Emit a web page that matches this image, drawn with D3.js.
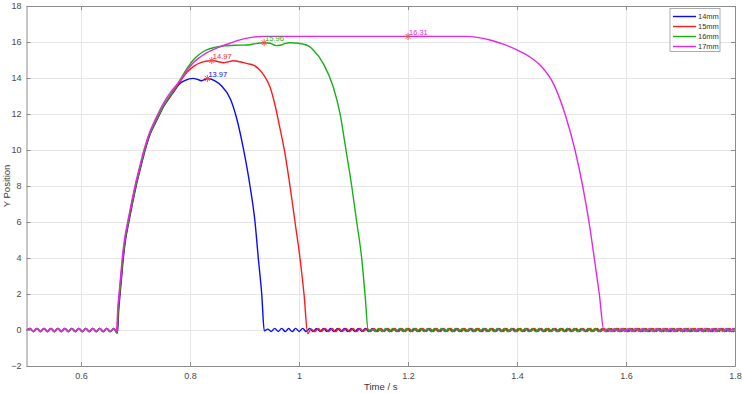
<!DOCTYPE html>
<html>
<head>
<meta charset="utf-8">
<script src="https://cdn.jsdelivr.net/npm/d3@7"></script>
<style>
  body { margin: 0; background: #fff; }
  text { font-family: "Liberation Sans", Arial, sans-serif; }
</style>
</head>
<body>
<script>
// series names and colours
const names = ["14mm", "15mm", "16mm", "17mm"];
const colors = ["#0a0aff", "#ff1a1a", "#12b312", "#e526e5"];

// main shape of each trajectory (time in s, y position)
const tBlue = [0.667,0.6692,0.6717,0.6747,0.6777,0.6817,0.6877,0.6942,0.7012,0.7092,0.7177,0.7272,0.7382,0.7512,0.767,0.7817,0.79,0.806,0.814,0.821,0.832,0.845,0.858,0.8739,0.8857,0.8978,0.9101,0.9193,0.9253,0.9316,0.9363];
const yBlue = [-0.15,1.1,2.0,3.0,4.0,5.0,6.0,7.0,8.0,9.0,10.0,10.9,11.6,12.4,13.1,13.7,13.85,13.98,13.92,13.85,13.97,13.85,13.55,12.85,11.75,10.1,8.0,6.0,4.0,2.0,-0.05];

const tRed = [0.6662,0.6684,0.6709,0.6739,0.6769,0.6809,0.6869,0.6934,0.7004,0.7084,0.7169,0.7264,0.7374,0.7504,0.7664,0.7817,0.794,0.806,0.822,0.840,0.851,0.861,0.870,0.879,0.8918,0.905,0.9162,0.926,0.9345,0.9468,0.956,0.9651,0.9743,0.9835,0.9927,1.0018,1.0092,1.016];
const yRed = [-0.2,1.1,2.0,3.0,4.0,5.0,6.0,7.0,8.0,9.0,10.0,10.9,11.6,12.4,13.1,13.8,14.3,14.63,14.88,14.97,14.92,14.85,14.9,14.96,14.9,14.8,14.72,14.5,14.2,13.5,12.5,11.2,9.8,8.0,6.0,4.0,2.0,-0.2];

const tGreen = [0.6658,0.668,0.6705,0.6735,0.6765,0.6805,0.6865,0.693,0.700,0.708,0.7165,0.726,0.737,0.750,0.766,0.7817,0.794,0.806,0.818,0.8305,0.845,0.861,0.883,0.904,0.916,0.936,0.947,0.958,0.965,0.975,0.9835,0.999,1.008,1.017,1.0262,1.0446,1.0629,1.0752,1.0862,1.0967,1.1059,1.115,1.1211,1.1272];
const yGreen = [-0.15,1.1,2.0,3.0,4.0,5.0,6.0,7.0,8.0,9.0,10.0,10.9,11.6,12.4,13.15,13.9,14.5,15.0,15.33,15.56,15.7,15.78,15.82,15.83,15.89,15.96,15.93,15.8,15.82,15.92,15.96,15.93,15.88,15.78,15.56,14.8,13.5,12.04,10.0,8.0,6.0,4.0,2.0,-0.05];

const tMag = [0.6652,0.6674,0.6699,0.6729,0.6759,0.6799,0.6859,0.6924,0.6994,0.7074,0.7159,0.7254,0.7364,0.7494,0.7654,0.7817,0.794,0.806,0.818,0.8305,0.852,0.8734,0.89,0.91,0.9345,1.3077,1.33,1.3505,1.375,1.40,1.422,1.4422,1.4666,1.4881,1.5064,1.5205,1.5321,1.5418,1.551,1.5596];
const yMag = [-0.1,1.15,2.05,3.05,4.05,5.05,6.05,7.05,8.05,9.05,10.05,10.95,11.7,12.5,13.25,13.85,14.4,14.85,15.15,15.4,15.7,15.93,16.1,16.24,16.31,16.31,16.24,16.11,15.88,15.56,15.2,14.72,13.7,12.0,10.0,8.0,6.0,4.0,2.0,-0.05];

// small ripple around zero, read every half period (0.0064 s)
const rippleStep = 0.0064;
const preStart = 0.5;
const preRipple = [-0.01,0.08,-0.09,0.09,-0.09,0.09,-0.09,0.09,-0.09,0.09,-0.09,0.09,-0.09,0.09,-0.09,0.09,-0.09,0.09,-0.09,0.09,-0.09,0.09,-0.09,0.09,-0.09,0.08];

const rippleBlue = [
  0.05,-0.08,0.09,-0.08,0.09,-0.09,0.08,-0.09,0.09,-0.08,
  0.09,-0.09,0.08,-0.09,0.09,-0.08,0.09,-0.09,0.08,-0.09,
  0.09,-0.08,0.09,-0.09,0.08,-0.09,0.09,-0.08,0.09,-0.09,
  0.08,-0.09,0.09,-0.08,0.09,-0.09,0.08,-0.09,0.09,-0.08,
  0.09,-0.09,0.08,-0.09,0.09,-0.08,0.09,-0.09,0.08,-0.09,
  0.09,-0.08,0.09,-0.09,0.08,-0.09,0.09,-0.08,0.09,-0.09,
  0.08,-0.09,0.09,-0.08,0.09,-0.09,0.08,-0.09,0.09,-0.08,
  0.09,-0.09,0.08,-0.09,0.09,-0.08,0.09,-0.09,0.08,-0.09,
  0.09,-0.08,0.09,-0.09,0.08,-0.09,0.09,-0.08,0.09,-0.09,
  0.08,-0.09,0.09,-0.08,0.09,-0.09,0.08,-0.09,0.09,-0.08,
  0.09,-0.09,0.08,-0.09,0.09,-0.08,0.09,-0.09,0.08,-0.09,
  0.09,-0.08,0.09,-0.09,0.08,-0.09,0.09,-0.08,0.09,-0.09,
  0.08,-0.09,0.09,-0.08,0.09,-0.09,0.08,-0.09,0.09,-0.08,
  0.09,-0.09,0.08,-0.09,0.09,-0.08];

const rippleRed = [
  0.06,-0.09,0.09,-0.08,0.09,-0.09,0.08,-0.09,0.09,-0.08,
  0.09,-0.09,0.08,-0.09,0.09,-0.08,0.09,-0.09,0.08,-0.09,
  0.09,-0.08,0.09,-0.09,0.08,-0.09,0.09,-0.08,0.09,-0.09,
  0.08,-0.09,0.09,-0.08,0.09,-0.09,0.08,-0.09,0.09,-0.08,
  0.09,-0.09,0.08,-0.09,0.09,-0.08,0.09,-0.09,0.08,-0.09,
  0.09,-0.08,0.09,-0.09,0.08,-0.09,0.09,-0.08,0.09,-0.09,
  0.08,-0.09,0.09,-0.08,0.09,-0.09,0.08,-0.09,0.09,-0.08,
  0.09,-0.09,0.08,-0.09,0.09,-0.08,0.09,-0.09,0.08,-0.09,
  0.09,-0.08,0.09,-0.09,0.08,-0.09,0.09,-0.08,0.09,-0.09,
  0.08,-0.09,0.09,-0.08,0.09,-0.09,0.08,-0.09,0.09,-0.08,
  0.09,-0.09,0.08,-0.09,0.09,-0.08,0.09,-0.09,0.08,-0.09,
  0.09,-0.08,0.09,-0.09,0.08,-0.09,0.09,-0.08,0.09,-0.09,
  0.08,-0.09,0.09];

const rippleGreen = [
  0.05,-0.08,0.09,-0.09,0.08,-0.09,0.09,-0.08,0.09,-0.09,
  0.08,-0.09,0.09,-0.08,0.09,-0.09,0.08,-0.09,0.09,-0.08,
  0.09,-0.09,0.08,-0.09,0.09,-0.08,0.09,-0.09,0.08,-0.09,
  0.09,-0.08,0.09,-0.09,0.08,-0.09,0.09,-0.08,0.09,-0.09,
  0.08,-0.09,0.09,-0.08,0.09,-0.09,0.08,-0.09,0.09,-0.08,
  0.09,-0.09,0.08,-0.09,0.09,-0.08,0.09,-0.09,0.08,-0.09,
  0.09,-0.08,0.09,-0.09,0.08,-0.09,0.09,-0.08,0.09,-0.09,
  0.08,-0.09,0.09,-0.08,0.09,-0.09,0.08,-0.09,0.09,-0.08,
  0.09,-0.09,0.08,-0.09,0.09,-0.08,0.09,-0.09,0.08,-0.09,
  0.09,-0.08,0.09,-0.09,0.08,-0.09,0.09,-0.08,0.09,-0.09,
  0.08,-0.09,0.09,-0.08,0.09,-0.09];

const rippleMag = [
  0.06,-0.09,0.09,-0.08,0.09,-0.09,0.08,-0.09,0.09,-0.08,
  0.09,-0.09,0.08,-0.09,0.09,-0.08,0.09,-0.09,0.08,-0.09,
  0.09,-0.08,0.09,-0.09,0.08,-0.09,0.09,-0.08,0.09,-0.09,
  0.08,-0.09,0.09,-0.08,0.09,-0.09,0.08,-0.09];

// marked peaks
const peakT = [0.832, 0.840, 0.936, 1.2];
const peakY = [13.97, 14.97, 15.96, 16.31];
const peakLabels = ["13.97", "14.97", "15.96", "16.31"];

// axis ticks
const xTicks = [0.6, 0.8, 1, 1.2, 1.4, 1.6, 1.8];
const yTicks = [-2, 0, 2, 4, 6, 8, 10, 12, 14, 16, 18];

// build point lists: pre ripple + main shape + tail ripple
function buildSeries(ts, ys, tail) {
    var pts = preRipple.map(function(v, i) { return [preStart + i * rippleStep, v]; });
    ts.forEach(function(t, i) { pts.push([t, ys[i]]); });
    var t0 = ts[ts.length - 1];
    tail.forEach(function(v, i) { pts.push([t0 + (i + 1) * rippleStep, v]); });
    return pts;
}
var series = [
    buildSeries(tBlue, yBlue, rippleBlue),
    buildSeries(tRed, yRed, rippleRed),
    buildSeries(tGreen, yGreen, rippleGreen),
    buildSeries(tMag, yMag, rippleMag)
];

var margin = {top: 6, right: 7, bottom: 27, left: 26.5},
    width = 742 - margin.left - margin.right,
    height = 393 - margin.top - margin.bottom;

var svgRoot = d3.select("body").append("svg")
    .attr("width", 742)
    .attr("height", 393);
var svg = svgRoot.append("g")
    .attr("transform", "translate(" + margin.left + "," + margin.top + ")");

var x = d3.scaleLinear().domain([0.5, 1.8]).range([0, width]);
var y = d3.scaleLinear().domain([-2, 18]).range([height, 0]);

// grid
svg.append("g")
    .attr("class", "grid")
    .call(d3.axisLeft(y).tickValues(yTicks).tickSize(-width).tickFormat(""))
    .call(function(g) { g.select(".domain").remove(); })
    .selectAll("line").style("stroke", "#e6e6e6");
svg.append("g")
    .attr("class", "grid")
    .attr("transform", "translate(0," + height + ")")
    .call(d3.axisBottom(x).tickValues(xTicks).tickSize(-height).tickFormat(""))
    .call(function(g) { g.select(".domain").remove(); })
    .selectAll("line").style("stroke", "#e6e6e6");

svgRoot.append("defs").append("clipPath").attr("id", "plotclip")
  .append("rect").attr("x", 0).attr("y", 0).attr("width", width).attr("height", height);

var line = d3.line()
    .x(function(d) { return x(d[0]); })
    .y(function(d) { return y(d[1]); })
    .curve(d3.curveMonotoneX);

var plot = svg.append("g").attr("clip-path", "url(#plotclip)");
series.forEach(function(s, i) {
    plot.append("path")
        .datum(s)
        .attr("fill", "none")
        .attr("stroke", colors[i])
        .attr("stroke-width", 1.4)
        .attr("d", line);
});

// peak markers (asterisks) and value labels
peakT.forEach(function(t, i) {
    var cx = x(t), cy = y(peakY[i]), r = 3.5, r2 = 2.5;
    svg.append("path")
        .attr("d", "M" + (cx - r) + "," + cy + "H" + (cx + r) +
                   "M" + cx + "," + (cy - r) + "V" + (cy + r) +
                   "M" + (cx - r2) + "," + (cy - r2) + "L" + (cx + r2) + "," + (cy + r2) +
                   "M" + (cx - r2) + "," + (cy + r2) + "L" + (cx + r2) + "," + (cy - r2))
        .attr("stroke", "#f04848")
        .attr("stroke-width", 0.9)
        .attr("fill", "none");
    svg.append("text")
        .attr("x", cx + 1)
        .attr("y", cy - 1.5)
        .style("font-size", "7.5px")
        .style("fill", colors[i])
        .text(peakLabels[i]);
});

// axes (MATLAB style box with inward ticks)
function styleAxis(g) {
    g.select(".domain").attr("stroke", "#8c8c8c");
    g.selectAll(".tick line").attr("stroke", "#8c8c8c");
    g.selectAll(".tick text").style("font-size", "9px").style("fill", "#4a4a4a");
}
svg.append("g")
    .attr("transform", "translate(0," + height + ")")
    .call(d3.axisBottom(x).tickValues(xTicks).tickSizeInner(-4).tickSizeOuter(0).tickPadding(7)
        .tickFormat(d3.format("")))
    .call(styleAxis);
svg.append("g")
    .call(d3.axisLeft(y).tickValues(yTicks).tickSizeInner(-4).tickSizeOuter(0).tickPadding(5))
    .call(styleAxis);
svg.append("g")
    .call(d3.axisTop(x).tickValues(xTicks).tickSizeInner(-4).tickSizeOuter(0).tickFormat(""))
    .call(styleAxis);
svg.append("g")
    .attr("transform", "translate(" + width + ",0)")
    .call(d3.axisRight(y).tickValues(yTicks).tickSizeInner(-4).tickSizeOuter(0).tickFormat(""))
    .call(styleAxis);

// axis labels
svg.append("text")
    .attr("x", width / 2)
    .attr("y", height + 24)
    .style("text-anchor", "middle")
    .style("font-size", "9.5px")
    .style("fill", "#333")
    .text("Time / s");
svg.append("text")
    .attr("transform", "rotate(-90)")
    .attr("x", -height / 2)
    .attr("y", -17)
    .style("text-anchor", "middle")
    .style("font-size", "9.5px")
    .style("fill", "#333")
    .text("Y Position");

// legend
var lg = svgRoot.append("g").attr("transform", "translate(670,8.5)");
lg.append("rect")
    .attr("width", 50).attr("height", 43)
    .attr("fill", "#fff").attr("stroke", "#999").attr("stroke-width", 0.8);
names.forEach(function(n, i) {
    var ly = 8 + i * 10;
    lg.append("line")
        .attr("x1", 3).attr("x2", 26).attr("y1", ly).attr("y2", ly)
        .attr("stroke", colors[i]).attr("stroke-width", 1.4);
    lg.append("text")
        .attr("x", 28).attr("y", ly + 2.7)
        .style("font-size", "7.5px").style("fill", "#333")
        .text(n);
});
</script>
</body>
</html>
